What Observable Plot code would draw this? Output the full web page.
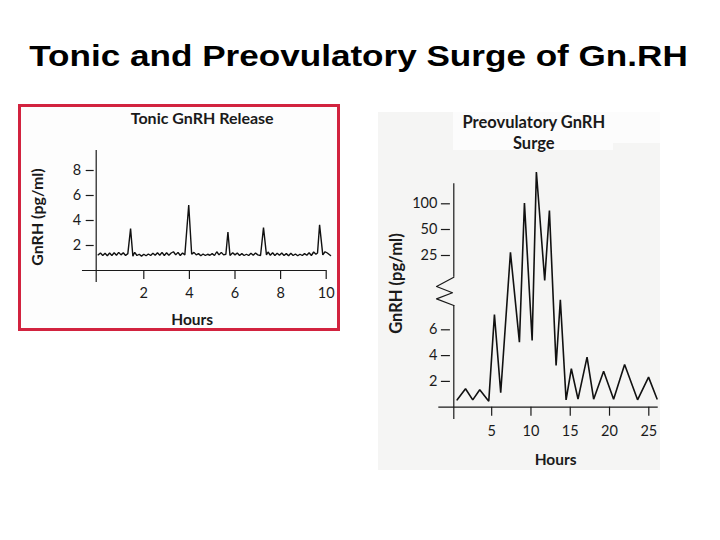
<!DOCTYPE html>
<html>
<head>
<meta charset="utf-8">
<script src="https://cdn.jsdelivr.net/npm/d3@7"></script>
<script src="https://cdn.jsdelivr.net/npm/@observablehq/plot@0.6"></script>
<style>
  html, body { margin: 0; padding: 0; background: #ffffff; }
  #page { position: relative; width: 720px; height: 540px; overflow: hidden; background: #ffffff; }
  #title { position: absolute; left: 0; top: 41px; width: 717px; text-align: center;
           font-family: "Liberation Sans", Arial, sans-serif; font-weight: bold; font-size: 30px;
           line-height: 30px; color: #000; transform: scaleX(1.17); transform-origin: 358.5px 50%; white-space: nowrap; }
  #left { position: absolute; left: 18px; top: 104px; width: 316px; height: 221px;
          border: 3px solid #d2233f; background: #fdfdfd; }
  #rightbg { position: absolute; left: 378px; top: 112px; width: 282px; height: 358px; background: #f5f5f4; }
  .wb { position: absolute; background: #fcfcfc; }
  #right { position: absolute; left: 378px; top: 112px; width: 283px; height: 358px; }
  svg { overflow: visible; }
</style>
</head>
<body>
<div id="page">
  <div id="title">Tonic and Preovulatory Surge of Gn.RH</div>
  <div id="left"></div>
  <div id="rightbg"></div>
  <div class="wb" style="left:453px;top:112px;width:160px;height:38px;"></div>
  <div class="wb" style="left:613px;top:112px;width:47px;height:31px;"></div>
  <div id="right"></div>
</div>
<script>
// ---------- Data: Tonic GnRH release ----------
const tonicHours = [
  0.0, 0.1, 0.2, 0.3, 0.4, 0.5, 0.6, 0.7, 0.8, 0.9, 1.0, 1.1, 1.2, 1.3, 1.42, 1.52, 1.6, 1.7, 1.8, 1.9,
  2.0, 2.1, 2.2, 2.3, 2.4, 2.5, 2.6, 2.7, 2.8, 2.9, 3.0, 3.1, 3.2, 3.3, 3.4, 3.5, 3.6, 3.7, 3.8, 3.97,
  4.1, 4.2, 4.3, 4.4, 4.5, 4.6, 4.7, 4.8, 4.9, 5.0, 5.1, 5.2, 5.3, 5.4, 5.5, 5.6, 5.69, 5.78, 5.9,
  6.0, 6.1, 6.2, 6.3, 6.4, 6.5, 6.6, 6.7, 6.8, 6.9, 7.0, 7.12, 7.25, 7.38, 7.45, 7.55, 7.65, 7.75, 7.85, 7.95,
  8.05, 8.15, 8.25, 8.35, 8.45, 8.55, 8.65, 8.75, 8.85, 8.95, 9.05, 9.15, 9.25, 9.35, 9.45, 9.55, 9.62, 9.71,
  9.85, 9.95, 10.05, 10.19
];
const tonicValues = [
  1.25, 1.4, 1.2, 1.38, 1.18, 1.4, 1.2, 1.42, 1.22, 1.45, 1.25, 1.42, 1.2, 1.35, 3.35, 1.15, 1.45, 1.2, 1.3, 1.15,
  1.3, 1.18, 1.32, 1.2, 1.38, 1.22, 1.42, 1.22, 1.45, 1.2, 1.42, 1.22, 1.4, 1.5, 1.25, 1.45, 1.2, 1.4, 1.25, 5.24,
  1.3, 1.45, 1.25, 1.35, 1.18, 1.32, 1.2, 1.3, 1.22, 1.35, 1.2, 1.5, 1.25, 1.45, 1.25, 1.3, 3.08, 1.2, 1.42,
  1.25, 1.4, 1.2, 1.35, 1.2, 1.3, 1.2, 1.38, 1.22, 1.4, 1.25, 1.2, 3.43, 1.25, 1.48, 1.22, 1.42, 1.2, 1.38, 1.22,
  1.4, 1.2, 1.35, 1.18, 1.38, 1.2, 1.32, 1.18, 1.3, 1.2, 1.35, 1.22, 1.42, 1.2, 1.48, 1.3, 1.4, 3.65,
  1.25, 1.5, 1.4, 1.2
];
const tonicXTicks = [2, 4, 6, 8, 10];
const tonicYTicks = [2, 4, 6, 8];

// ---------- Data: Preovulatory GnRH surge ----------
const surgeHours = [
  0.61, 1.67, 2.59, 3.48, 4.63, 5.35, 6.15, 7.39, 8.53, 9.17, 10.15, 10.69, 11.75, 12.35,
  13.2, 13.74, 14.47, 15.14, 15.99, 17.14, 17.98, 19.25, 20.52, 21.92, 23.57, 24.97, 26.04
];
const surgeValues = [
  0.57, 1.43, 0.57, 1.35, 0.47, 7.19, 1.12, 28, 5.04, 103, 5.17, 245, 13.3, 86.8,
  3.23, 8.94, 0.57, 2.98, 0.62, 3.88, 0.62, 2.79, 0.62, 3.31, 0.57, 2.33, 0.65
];
const surgeXTicks = [5, 10, 15, 20, 25];
const surgeYTicks = [2, 4, 6, 25, 50, 100];
// broken-axis scale: linear below the break, log-like (piecewise) above it
const surgeYDomain = [0, 8, 14, 25, 50, 100, 200, 400];

const tonic = tonicHours.map((h, i) => ({h, v: tonicValues[i]}));
const surge = surgeHours.map((h, i) => ({h, v: surgeValues[i]}));

const ink = "#1a1a1a";
const font = "Lato, 'Open Sans', sans-serif";

// ---------- Left chart ----------
const left = Plot.plot({
  width: 316, height: 221,
  marginLeft: 76.7, marginRight: 11.3, marginTop: 43, marginBottom: 58,
  x: {domain: [0, 10]},
  y: {domain: [0, 9.6]},
  style: {background: "transparent", fontFamily: font, fontSize: "14px", color: ink, overflow: "visible"},
  marks: [
    Plot.ruleX([0], {y1: -0.96, y2: 9.6, dx: -2, stroke: ink, strokeWidth: 1.2}),
    Plot.ruleY([0], {x1: -0.69, x2: 10.01, stroke: ink, strokeWidth: 1.2}),
    Plot.axisY({ticks: tonicYTicks, tickSize: 8, tickPadding: 5, dx: -4, label: null, fontSize: 14.5, stroke: ink, strokeWidth: 1.2}),
    Plot.axisX({ticks: tonicXTicks, tickSize: 9, tickPadding: 8, label: null, fontSize: 14.5, stroke: ink, strokeWidth: 1.2}),
    Plot.line(tonic, {x: "h", y: "v", stroke: "#111", strokeWidth: 1.4, strokeLinejoin: "miter"}),
    Plot.text(["Tonic GnRH Release"], {frameAnchor: "top", textAnchor: "middle", lineAnchor: "middle", dx: -10, dy: -31.7, fontWeight: "bold", fontSize: 16, fill: ink}),
    Plot.text(["Hours"], {frameAnchor: "bottom", textAnchor: "middle", lineAnchor: "middle", dx: -20, dy: 50, fontWeight: "bold", fontSize: 15.5, fill: ink}),
    Plot.text(["GnRH (pg/ml)"], {frameAnchor: "left", textAnchor: "middle", lineAnchor: "middle", rotate: -90, dx: -60.7, dy: 6.5, fontWeight: "bold", fontSize: 16, fill: ink})
  ]
});
document.getElementById("left").appendChild(left);

// ---------- Right chart ----------
const breakGlyph = [
  {h: 0.18, v: 14}, {h: -2.02, v: 11.92}, {h: 0.01, v: 10.51}, {h: -2.02, v: 9.16}, {h: 0.18, v: 7.88}
];
const right = Plot.plot({
  width: 283, height: 358,
  marginLeft: 73.9, marginRight: 12.7, marginTop: 39.3, marginBottom: 63.3,
  x: {domain: [0, 25]},
  y: {type: "linear", domain: surgeYDomain, range: [294.7, 191.5, 164.7, 143, 117, 91.3, 65.3, 39.3]},
  style: {background: "transparent", fontFamily: font, fontSize: "14px", color: ink, overflow: "visible"},
  marks: [
    Plot.ruleX([0], {y1: -0.95, y2: 7.88, dx: 1.4, stroke: ink, strokeWidth: 1.2}),
    Plot.ruleX([0], {y1: 14, y2: 177, dx: 1.4, stroke: ink, strokeWidth: 1.2}),
    Plot.line(breakGlyph, {x: "h", y: "v", stroke: ink, strokeWidth: 1.2}),
    Plot.ruleY([0], {x1: -1.73, x2: 26.2, stroke: ink, strokeWidth: 1.2}),
    Plot.axisY({ticks: surgeYTicks, tickSize: 9, tickPadding: 4, dx: -2, label: null, fontSize: 14.5, stroke: ink, strokeWidth: 1.2}),
    Plot.axisX({ticks: surgeXTicks, tickSize: 9, tickPadding: 10, label: null, fontSize: 14.5, stroke: ink, strokeWidth: 1.2}),
    Plot.line(surge, {x: "h", y: "v", stroke: "#111", strokeWidth: 1.6, strokeLinejoin: "miter"}),
    Plot.text(["Preovulatory GnRH\nSurge"], {frameAnchor: "top", textAnchor: "middle", lineAnchor: "middle", lineHeight: 1.25, dx: -16.8, dy: -19.6, fontWeight: "bold", fontSize: 16.5, fill: ink}),
    Plot.text(["Hours"], {frameAnchor: "bottom", textAnchor: "middle", lineAnchor: "middle", dx: 5, dy: 53.3, fontWeight: "bold", fontSize: 15.5, fill: ink}),
    Plot.text(["GnRH (pg/ml)"], {frameAnchor: "left", textAnchor: "middle", lineAnchor: "middle", rotate: -90, dx: -55.9, dy: 4, fontWeight: "bold", fontSize: 16.5, fill: ink})
  ]
});
document.getElementById("right").appendChild(right);
</script>
</body>
</html>
